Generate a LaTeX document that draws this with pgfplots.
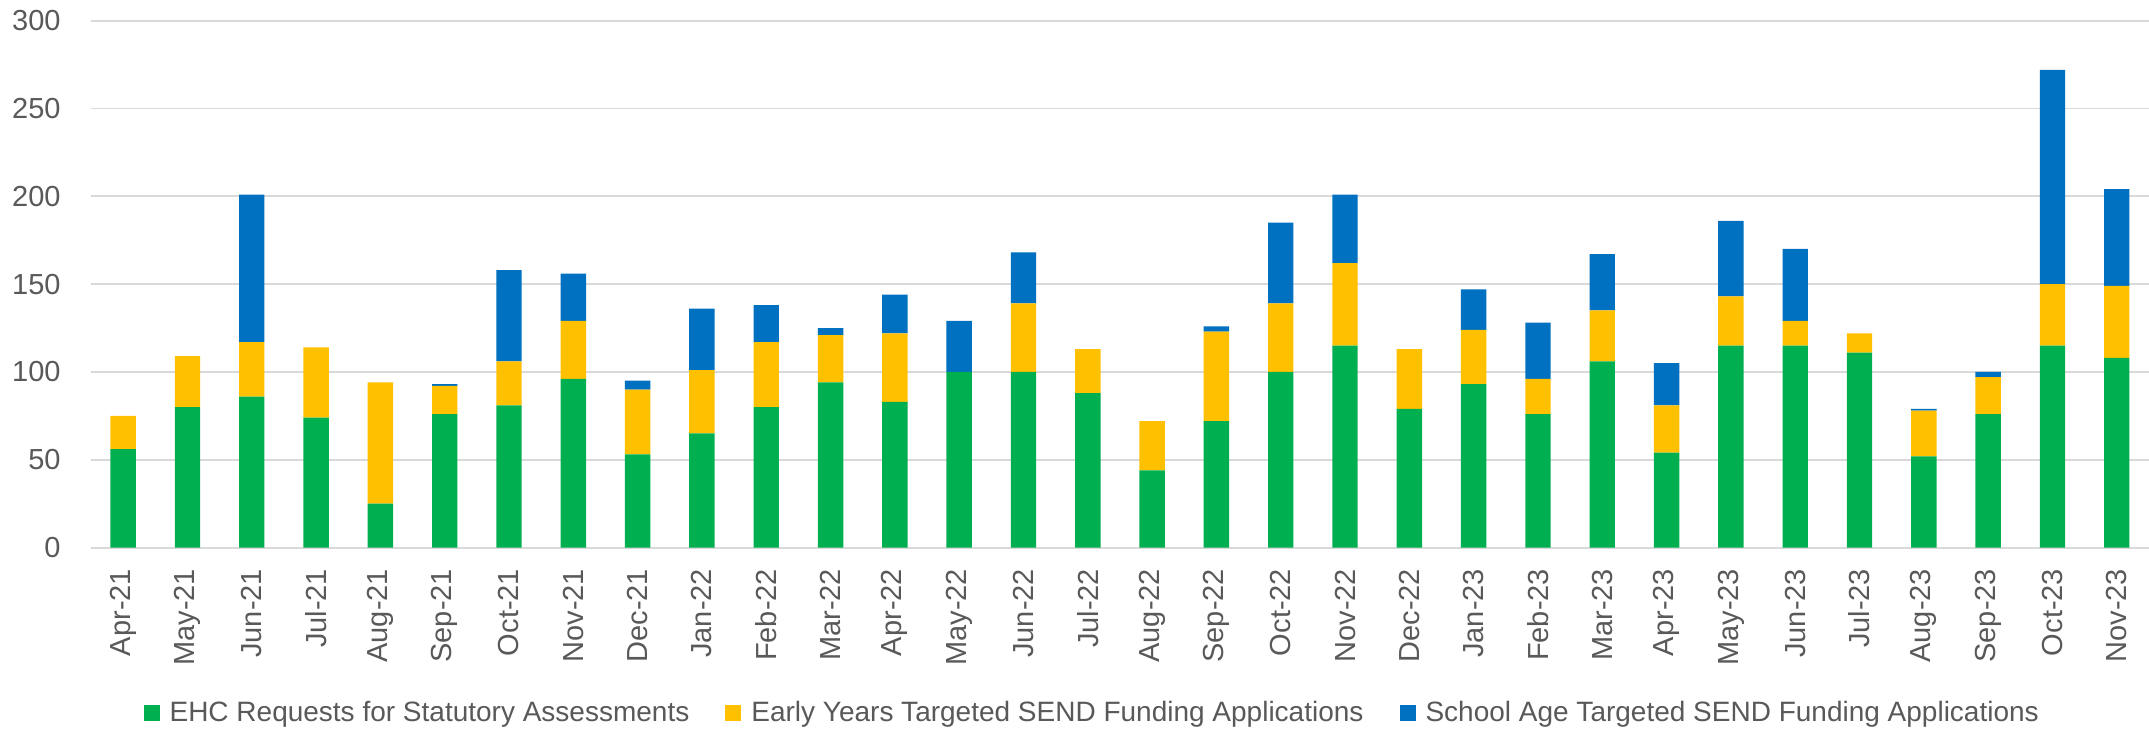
\documentclass[border=0pt]{standalone}
\usepackage{pgfplots}
\pgfplotsset{compat=1.18}
\usepackage{pgfplotstable}
\usepackage{fontspec}
\setmainfont{Liberation Sans}

\definecolor{ehc}{HTML}{00B050}
\definecolor{early}{HTML}{FFC000}
\definecolor{school}{HTML}{0070C0}
\definecolor{gridgray}{HTML}{D9D9D9}
\definecolor{txtgray}{HTML}{595959}

% x = month index, g = EHC requests, y = early years, b = school age
\pgfplotstableread{
x g y b
0 56 19 0
1 80 29 0
2 86 31 84
3 74 40 0
4 25 69 0
5 76 16 1
6 81 25 52
7 96 33 27
8 53 37 5
9 65 36 35
10 80 37 21
11 94 27 4
12 83 39 22
13 100 0 29
14 100 39 29
15 88 25 0
16 44 28 0
17 72 51 3
18 100 39 46
19 115 47 39
20 79 34 0
21 93 31 23
22 76 20 32
23 106 29 32
24 54 27 24
25 115 28 43
26 115 14 41
27 111 11 0
28 52 26 1
29 76 21 3
30 115 35 122
31 108 41 55
}\sendtab

\begin{document}
\begin{tikzpicture}
\path[use as bounding box] (-45.5pt,-90.25pt) rectangle (1029pt,273.8pt);
\begin{axis}[at={(0,0)}, anchor=south west, scale only axis,
    width=1029pt, height=263.5pt,
    ybar stacked, bar width=12.7pt,
    xmin=-0.5, xmax=31.5, ymin=0, ymax=300,
    xtick=data,
    xticklabels={Apr-21,May-21,Jun-21,Jul-21,Aug-21,Sep-21,Oct-21,Nov-21,Dec-21,
        Jan-22,Feb-22,Mar-22,Apr-22,May-22,Jun-22,Jul-22,Aug-22,Sep-22,Oct-22,Nov-22,Dec-22,
        Jan-23,Feb-23,Mar-23,Apr-23,May-23,Jun-23,Jul-23,Aug-23,Sep-23,Oct-23,Nov-23},
    ytick={0,50,...,300}, yticklabels={0,50,100,150,200,250,300},
    ymajorgrids, grid style={draw=gridgray, line width=0.9pt},
    axis line style={draw=none}, tick style={draw=none},
    tick label style={font=\fontsize{14.5}{17}\selectfont, text=txtgray, inner sep=0pt},
    xticklabel style={rotate=90, anchor=east},
    xticklabel shift=10.5pt, yticklabel shift=15pt,
    legend columns=3,
    legend style={at={(0.487,-0.314)}, anchor=center, draw=none,
        font=\fontsize{14}{17}\selectfont, text=txtgray,
        /tikz/every even column/.append style={column sep=16pt}},
    legend image code/.code={\fill[#1] (0pt,-4pt) rectangle (8pt,4pt); \path (11pt,0pt);},
]
\addplot[fill=ehc, draw=none] table[x=x, y=g] {\sendtab};
\addlegendentry{EHC Requests for Statutory Assessments}
\addplot[fill=early, draw=none] table[x=x, y=y] {\sendtab};
\addlegendentry{Early Years Targeted SEND Funding Applications}
\addplot[fill=school, draw=none] table[x=x, y=b] {\sendtab};
\addlegendentry{School Age Targeted SEND Funding Applications}
\end{axis}
\end{tikzpicture}
\end{document}
